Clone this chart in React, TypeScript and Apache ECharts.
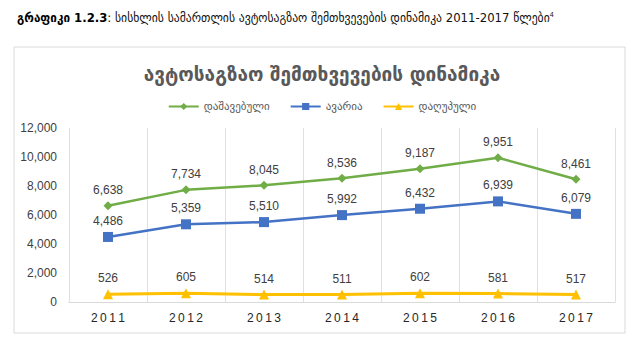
import React, { useEffect, useRef } from "react";
import * as echarts from "echarts";

const years = ["2011", "2012", "2013", "2014", "2015", "2016", "2017"];
const injured = [6638, 7734, 8045, 8536, 9187, 9951, 8461];
const accidents = [4486, 5359, 5510, 5992, 6432, 6939, 6079];
const died = [526, 605, 514, 511, 602, 581, 517];
const seriesNames = ["დაშავებული", "ავარია", "დაღუპული"];
const yTicks = [0, 2000, 4000, 6000, 8000, 10000, 12000];

const fmt = (v: number) => v.toLocaleString("en-US");
const geoFont = "'DejaVu Sans', 'Noto Sans', sans-serif";
const numFont = "'Liberation Sans', 'DejaVu Sans', sans-serif";

export default function App() {
  const ref = useRef<HTMLDivElement>(null);
  useEffect(() => {
    if (!ref.current) return;
    const chart = echarts.init(ref.current, null, { renderer: "svg" });
    const mkSeries = (name: string, data: number[], color: string, symbol: string, size: number, width: number) => ({
      name,
      type: "line",
      data,
      symbol,
      symbolSize: size,
      lineStyle: { color, width },
      itemStyle: { color },
      label: {
        show: true,
        position: "top",
        distance: 5,
        formatter: (p: any) => fmt(p.value),
        fontFamily: numFont,
        fontSize: 12,
        color: "#404040",
      },
    });
    chart.setOption({
      animation: false,
      backgroundColor: "#ffffff",
      title: [
        {
          left: 12,
          top: 6,
          text: "{b|გრაფიკი 1.2.3}{n|: სისხლის სამართლის ავტოსაგზაო შემთხვევების დინამიკა 2011-2017 წლები}{s|4}",
          textStyle: {
            fontWeight: "normal",
            rich: {
              b: { fontFamily: geoFont, fontWeight: "bold", fontSize: 11.7, color: "#000" },
              n: { fontFamily: geoFont, fontWeight: "normal", fontSize: 11.7, color: "#111" },
              s: { fontFamily: numFont, fontWeight: "normal", fontSize: 7, color: "#111", verticalAlign: "top", padding: [0, 0, 6, 0] },
            },
          },
        },
        {
          left: "center",
          top: 59,
          text: "ავტოსაგზაო შემთხვევების დინამიკა",
          textStyle: { fontFamily: geoFont, fontWeight: "bold", fontSize: 19, color: "#595959" },
        },
      ],
      graphic: [
        {
          type: "rect",
          shape: { x: 14, y: 47, width: 611, height: 286 },
          style: { fill: "none", stroke: "#d9d9d9", lineWidth: 1 },
          z: -1,
        },
      ],
      legend: {
        top: 96,
        left: "center",
        itemWidth: 30,
        itemHeight: 9,
        itemGap: 20,
        textStyle: { fontFamily: geoFont, fontSize: 11, color: "#595959" },
        data: seriesNames,
      },
      grid: { left: 69, right: 29, top: 128, bottom: 42 },
      xAxis: {
        type: "category",
        data: years,
        boundaryGap: true,
        axisLine: { lineStyle: { color: "#d9d9d9" } },
        axisTick: { show: false },
        splitLine: { show: true, lineStyle: { color: "#e0e0e0" } },
        axisLabel: {
          fontFamily: numFont,
          fontSize: 12,
          color: "#262626",
          margin: 10,
          formatter: (v: string) => v.split("").join("\u2009"),
        },
      },
      yAxis: {
        type: "value",
        min: yTicks[0],
        max: yTicks[yTicks.length - 1],
        interval: 2000,
        axisLine: { show: false },
        axisTick: { show: false },
        splitLine: { show: false },
        axisLabel: {
          fontFamily: numFont,
          fontSize: 12,
          color: "#404040",
          margin: 12,
          formatter: (v: number) => fmt(v),
        },
      },
      series: [
        mkSeries(seriesNames[0], injured, "#70AD47", "diamond", 9, 2.5),
        mkSeries(seriesNames[1], accidents, "#4472C4", "rect", 10, 2.5),
        mkSeries(seriesNames[2], died, "#FFC000", "triangle", 10, 3),
      ],
    });
    return () => chart.dispose();
  }, []);
  return <div ref={ref} style={{ width: 644, height: 344, position: "absolute", left: 0, top: 0 }} />;
}
